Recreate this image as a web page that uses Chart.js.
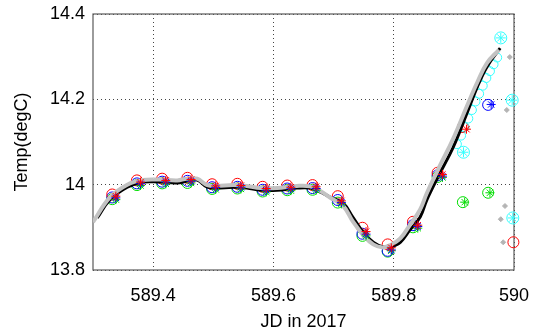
<!DOCTYPE html>
<html>
<head>
<meta charset="utf-8">
<script src="https://cdn.jsdelivr.net/npm/chart.js@4.4.1/dist/chart.umd.min.js"></script>
<style>
  html, body { margin: 0; padding: 0; background: #fff; }
  canvas { display: block; }
</style>
</head>
<body>
<canvas id="temp-chart" width="535" height="333"></canvas>
<script>
"use strict";
Chart.defaults.font.family = "'Liberation Sans', Arial, sans-serif";
Chart.defaults.color = '#000';

// black and grey traces
const lineT = [589.307, 589.328, 589.357, 589.383, 589.411, 589.440, 589.456, 589.473, 589.490, 589.506,
               589.533, 589.556, 589.578, 589.606, 589.639, 589.661, 589.678, 589.694, 589.716, 589.732,
               589.749, 589.766, 589.782, 589.794, 589.811, 589.827, 589.844, 589.855, 589.877, 589.899,
               589.922, 589.939, 589.955, 589.977];
const blackV = [13.922, 13.964, 13.994, 14.006, 14.006, 14.004, 14.008, 14.011, 13.994, 13.992,
                13.994, 13.992, 13.987, 13.987, 13.992, 13.992, 13.983, 13.971, 13.957, 13.924,
                13.889, 13.865, 13.854, 13.854, 13.865, 13.894, 13.924, 13.964, 14.027, 14.088,
                14.168, 14.229, 14.276, 14.320];
const greyT = [589.300, 589.328, 589.357, 589.383, 589.411, 589.440, 589.456, 589.473, 589.490, 589.506,
               589.533, 589.556, 589.578, 589.606, 589.639, 589.661, 589.678, 589.694, 589.716, 589.732,
               589.749, 589.766, 589.782, 589.794, 589.811, 589.827, 589.844, 589.855, 589.877, 589.899,
               589.922, 589.939, 589.955, 589.975];
const greyV = [13.912, 13.970, 14.000, 14.011, 14.012, 14.010, 14.014, 14.014, 13.999, 13.997,
               13.999, 13.997, 13.992, 13.992, 13.997, 13.996, 13.985, 13.970, 13.950, 13.914,
               13.882, 13.860, 13.853, 13.858, 13.874, 13.906, 13.942, 13.980, 14.045, 14.108,
               14.185, 14.240, 14.285, 14.316];

// hourly observations, circles
const redT = [589.332, 589.373, 589.415, 589.457, 589.498, 589.540, 589.582, 589.623, 589.665, 589.707,
              589.748, 589.790, 589.832, 589.873, 589.915, 589.999];
const redV = [13.977, 14.010, 14.014, 14.016, 14.001, 14.002, 13.995, 13.998, 13.999, 13.973,
              13.899, 13.860, 13.913, 14.028, 14.135, 13.865];
const blueT = [589.332, 589.373, 589.415, 589.457, 589.498, 589.540, 589.582, 589.623, 589.665, 589.707,
               589.748, 589.790, 589.832, 589.873, 589.957];
const blueV = [13.970, 14.003, 14.007, 14.009, 13.994, 13.995, 13.988, 13.991, 13.992, 13.964,
               13.885, 13.845, 13.905, 14.022, 14.187];
const greenT = [589.332, 589.373, 589.415, 589.457, 589.498, 589.540, 589.582, 589.623, 589.665, 589.707,
                589.748, 589.790, 589.832, 589.873, 589.915, 589.957];
const greenV = [13.966, 13.999, 14.003, 14.004, 13.990, 13.991, 13.984, 13.987, 13.988, 13.958,
                13.880, 13.843, 13.900, 14.018, 13.959, 13.981];

// asterisks
const redStarT = [589.338, 589.379, 589.421, 589.463, 589.504, 589.546, 589.588, 589.629, 589.671, 589.713,
                  589.754, 589.796, 589.840, 589.881, 589.921];
const redStarV = [13.973, 14.006, 14.010, 14.012, 13.997, 13.998, 13.991, 13.994, 13.995, 13.962,
                  13.890, 13.852, 13.905, 14.024, 14.130];
const blueStarT = [589.338, 589.379, 589.421, 589.463, 589.504, 589.546, 589.588, 589.629, 589.671, 589.713,
                   589.754, 589.796, 589.840, 589.881, 589.962];
const blueStarV = [13.969, 14.002, 14.006, 14.008, 13.993, 13.994, 13.987, 13.990, 13.991, 13.958,
                   13.884, 13.847, 13.902, 14.020, 14.188];
const greenStarT = [589.338, 589.379, 589.421, 589.463, 589.504, 589.546, 589.588, 589.629, 589.671, 589.713,
                    589.754, 589.796, 589.840, 589.881, 589.918, 589.960];
const greenStarV = [13.965, 13.998, 14.002, 14.004, 13.989, 13.990, 13.983, 13.986, 13.987, 13.955,
                    13.880, 13.845, 13.898, 14.017, 13.959, 13.981];

// cyan series
const cyanT = [589.905, 589.912, 589.918, 589.924, 589.930, 589.936, 589.942, 589.948, 589.954, 589.960,
               589.966, 589.972];
const cyanV = [14.095, 14.115, 14.135, 14.155, 14.175, 14.195, 14.213, 14.232, 14.250, 14.266,
               14.282, 14.298];
const cyanOutT = [589.916, 589.978, 589.997, 589.998];
const cyanOutV = [14.076, 14.344, 14.198, 13.922];

// loose grey points
const greyPtT = [589.993, 589.988, 589.985, 589.978, 589.982];
const greyPtV = [14.299, 14.175, 13.950, 13.919, 13.865];

const xTicks = [589.4, 589.6, 589.8, 590];
const yTicks = [13.8, 14, 14.2, 14.4];

function pts(xs, ys) {
    return xs.map((x, i) => ({x: x, y: ys[i]}));
}

function markers(xs, ys, color, style, radius) {
    return {
        data: pts(xs, ys),
        showLine: false,
        pointStyle: style,
        pointRadius: radius,
        pointBorderColor: color,
        pointBackgroundColor: 'rgba(0,0,0,0)',
        pointBorderWidth: 1,
        clip: false
    };
}

const boxPlugin = {
    id: 'box',
    beforeDatasetsDraw(chart) {
        const a = chart.chartArea;
        const ctx = chart.ctx;
        ctx.save();
        ctx.strokeStyle = '#5a5a5a';
        ctx.lineWidth = 1.2;
        ctx.strokeRect(a.left, a.top, a.right - a.left, a.bottom - a.top);
        ctx.restore();
    }
};

// first dataset ends up on top
const ctx = document.getElementById('temp-chart');
new Chart(ctx, {
    type: 'scatter',
    data: {
        datasets: [
            Object.assign(markers(greyPtT, greyPtV, '#b4b4b4', 'rectRot', 2.5), {pointBackgroundColor: '#b4b4b4'}),
            markers(cyanOutT, cyanOutV, '#33ffff', 'circle', 6),
            markers(cyanOutT, cyanOutV, '#33ffff', 'star', 5),
            markers(redStarT, redStarV, '#ff0000', 'star', 4.5),
            markers(blueStarT, blueStarV, '#0000ff', 'star', 4.5),
            markers(greenStarT, greenStarV, '#00dd00', 'star', 4.5),
            {
                data: pts(greyT, greyV),
                showLine: true,
                borderColor: '#c2c2c2',
                borderWidth: 4,
                tension: 0.4,
                pointRadius: 0
            },
            {
                data: pts(lineT, blackV),
                showLine: true,
                borderColor: '#000',
                borderWidth: 3,
                tension: 0.4,
                pointRadius: 0
            },
            markers(cyanT, cyanV, '#33ffff', 'circle', 4.5),
            markers(redT, redV, '#ff0000', 'circle', 5.5),
            markers(blueT, blueV, '#0000ff', 'circle', 5.5),
            markers(greenT, greenV, '#00dd00', 'circle', 5.5)
        ]
    },
    options: {
        responsive: false,
        animation: false,
        layout: {
            padding: {left: 0, right: 21, top: 14, bottom: 0}
        },
        plugins: {
            legend: {display: false},
            tooltip: {enabled: false}
        },
        scales: {
            x: {
                type: 'linear',
                min: 589.3,
                max: 590,
                afterFit: (s) => { s.height = 63; s.paddingLeft = 0; s.paddingRight = 0; },
                afterBuildTicks: (s) => { s.ticks = xTicks.map(v => ({value: v})); },
                grid: {color: '#444', drawTicks: false, lineWidth: 1},
                border: {display: false, dash: [1, 3]},
                ticks: {
                    font: {size: 18},
                    padding: 15,
                    maxRotation: 0,
                    callback: (v) => String(+v.toFixed(1))
                },
                title: {
                    display: true,
                    text: 'JD in 2017',
                    font: {size: 18, lineHeight: 1.2},
                    padding: {top: 0, bottom: 0}
                }
            },
            y: {
                type: 'linear',
                min: 13.8,
                max: 14.4,
                afterFit: (s) => { s.width = 93; s.paddingTop = 0; s.paddingBottom = 0; },
                afterBuildTicks: (s) => { s.ticks = yTicks.map(v => ({value: v})); },
                grid: {color: '#444', drawTicks: false, lineWidth: 1},
                border: {display: false, dash: [1, 3]},
                ticks: {
                    font: {size: 18},
                    padding: 8,
                    callback: (v) => String(+v.toFixed(1))
                },
                title: {
                    display: true,
                    text: 'Temp(degC)',
                    font: {size: 18, lineHeight: 1.2},
                    padding: {top: 11, bottom: 0}
                }
            }
        }
    },
    plugins: [boxPlugin]
});
</script>
</body>
</html>
